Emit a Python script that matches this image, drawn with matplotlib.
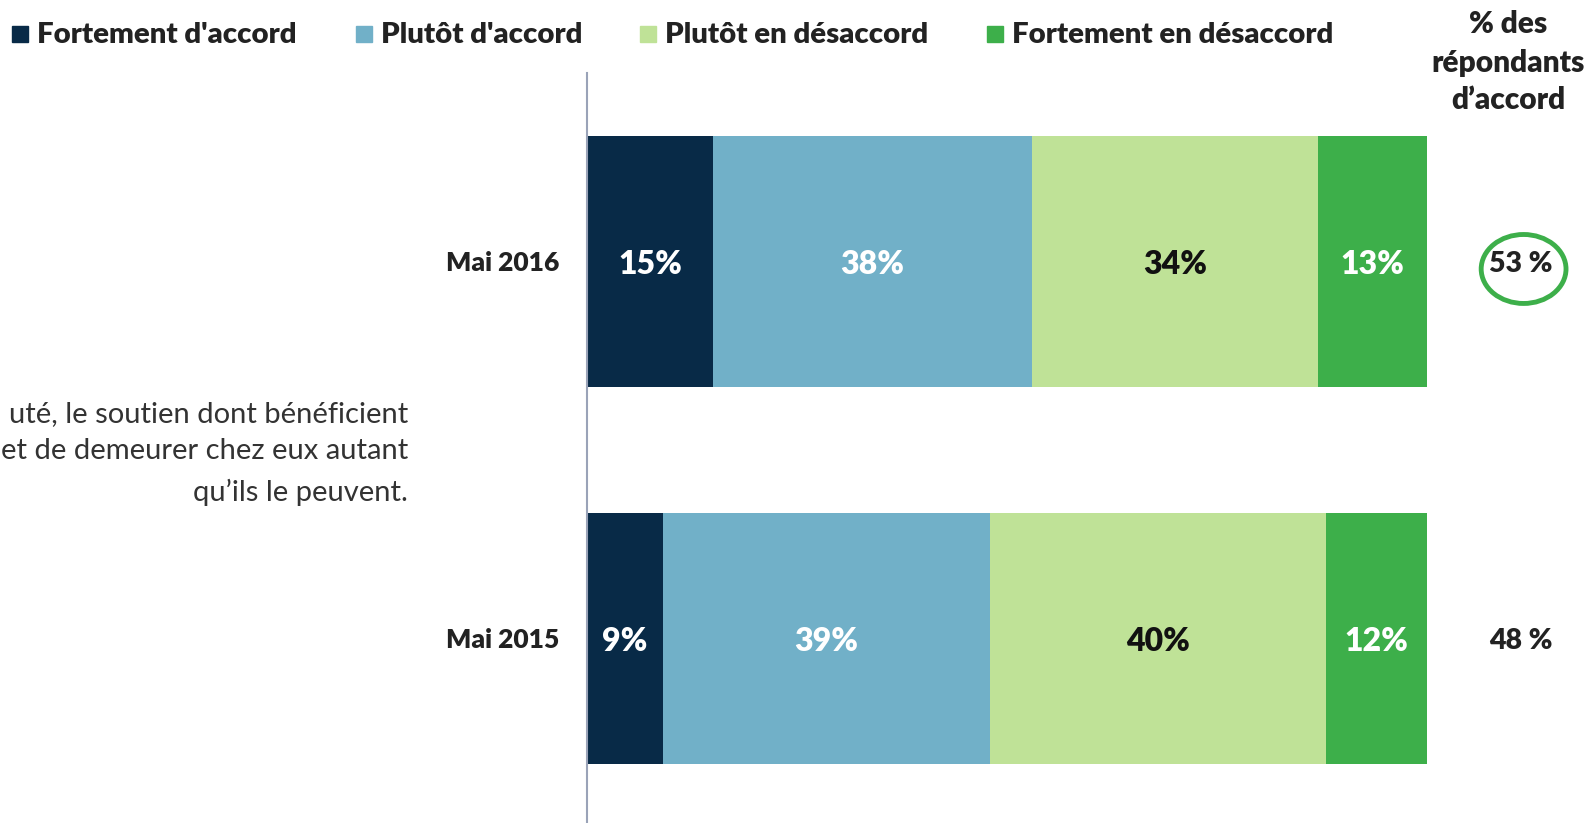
import numpy as np
import matplotlib.pyplot as plt
from matplotlib.patches import Ellipse

plt.rcParams['font.family'] = ['Lato', 'DejaVu Sans']

# Data
periods = ['Mai 2015', 'Mai 2016']
categories = ["Fortement d'accord", "Plutôt d'accord", "Plutôt en désaccord", "Fortement en désaccord"]
values = {
    "Fortement d'accord": [9, 15],
    "Plutôt d'accord": [39, 38],
    "Plutôt en désaccord": [40, 34],
    "Fortement en désaccord": [12, 13],
}
agree_totals = ['48 %', '53 %']
colors = ['#082a47', '#71b0c8', '#bfe297', '#3daf4a']
text_colors = ['white', 'white', '#111111', 'white']
statement = ["uté, le soutien dont bénéficient",
             "et de demeurer chez eux autant",
             "qu\u2019ils le peuvent."]

W, H = 1587, 823
fig = plt.figure(figsize=(W / 100, H / 100), dpi=100)


def fx(x):
    return x / W


def fy(y):
    return 1 - y / H


ax = fig.add_axes([fx(587), 0, fx(1427) - fx(587), fy(73)])
y = np.arange(len(periods))
left = np.zeros(len(periods))
for cat, col, tcol in zip(categories, colors, text_colors):
    vals = np.array(values[cat])
    ax.barh(y, vals, left=left, height=0.666, color=col)
    for yi, v, l in zip(y, vals, left):
        ax.text(l + v / 2, yi - 0.008, f'{v}%', ha='center', va='center',
                color=tcol, fontsize=23, fontweight='heavy')
    left += vals

ax.set_xlim(0, 100)
ax.set_ylim(-0.49, 1.5)
for s in ['top', 'right', 'bottom']:
    ax.spines[s].set_visible(False)
ax.spines['left'].set_color('#9aa3b8')
ax.spines['left'].set_linewidth(1.5)
ax.set_xticks([])
ax.set_yticks(y)
ax.set_yticklabels(periods, fontsize=19, fontweight='heavy', color='#222222')
ax.tick_params(axis='y', length=0, pad=20)

# agreement column on the right
for yi, t in zip(y, agree_totals):
    ax.text(111.2, yi - 0.008, t, ha='center', va='center', fontsize=20.5,
            fontweight='heavy', color='#222222', clip_on=False)
ax.add_patch(Ellipse((111.5, 0.98), 10.1, 0.183, fill=False,
                     edgecolor='#3daf4a', linewidth=3.5, clip_on=False))
for line, yy in zip(['% des', 'répondants', 'd\u2019accord'], [24, 63, 100]):
    fig.text(fx(1508), fy(yy), line, ha='center', va='center',
             fontsize=21.5, fontweight='heavy', color='#222222')

# legend at the top
leg_sq = [12, 356, 640, 987]
for xs, cat, col in zip(leg_sq, categories, colors):
    fig.patches.append(plt.Rectangle((fx(xs), fy(42)), fx(16), 16 / H,
                                     transform=fig.transFigure, color=col))
    fig.text(fx(xs + 25), fy(35), cat, ha='left', va='center',
             fontsize=21.2, fontweight='heavy', color='#222222')

# statement text on the left
for line, yy in zip(statement, [414, 451, 492]):
    fig.text(fx(408), fy(yy), line, ha='right', va='center',
             fontsize=21, color='#333333')

fig.savefig('out.png', dpi=100)
